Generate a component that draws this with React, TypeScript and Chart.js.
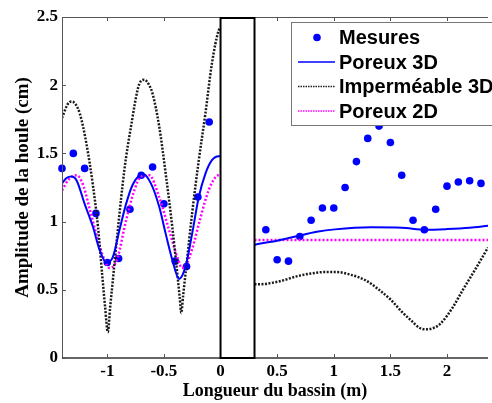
import React, { useEffect, useRef } from 'react';
import { Chart, registerables } from 'chart.js';

Chart.register(...registerables);

// Axis ticks
const xTicks = [-1, -0.5, 0, 0.5, 1, 1.5, 2];
const yTicks = [0, 0.5, 1, 1.5, 2, 2.5];
const xRange = [-1.4, 2.362];
const yRange = [0, 2.5];
// Basin structure (rectangle between these abscissae)
const basinBox = [0, 0.3];

// Mesures (measured points)
const mesuresX = [-1.4, -1.3, -1.2, -1.1, -1.0, -0.9, -0.8, -0.7, -0.6, -0.5, -0.4, -0.3, -0.2, -0.1,
  0.4, 0.5, 0.6, 0.7, 0.8, 0.9, 1.0, 1.1, 1.2, 1.3, 1.4, 1.5, 1.6, 1.7, 1.8, 1.9, 2.0, 2.1, 2.2, 2.3];
const mesuresY = [1.39, 1.50, 1.39, 1.06, 0.70, 0.73, 1.09, 1.34, 1.40, 1.13, 0.71, 0.67, 1.18, 1.73,
  0.94, 0.72, 0.71, 0.89, 1.01, 1.10, 1.10, 1.25, 1.44, 1.61, 1.70, 1.58, 1.34, 1.01, 0.94, 1.09, 1.26, 1.29, 1.30, 1.28];

// Poreux 3D
const poreux3dLeftX = [-1.40, -1.36, -1.315, -1.27, -1.2, -1.126, -1.067, -1.009, -0.951, -0.892, -0.834, -0.776, -0.717, -0.688, -0.615, -0.542, -0.484, -0.426, -0.367, -0.309, -0.251, -0.192, -0.134, -0.076, -0.017, 0];
const poreux3dLeftY = [1.28, 1.32, 1.33, 1.30, 1.13, 0.96, 0.79, 0.70, 0.74, 0.94, 1.13, 1.27, 1.34, 1.35, 1.28, 1.11, 0.91, 0.72, 0.58, 0.67, 0.91, 1.18, 1.35, 1.45, 1.48, 1.48];
const poreux3dRightX = [0.30, 0.33, 0.5, 0.68, 0.85, 1.01, 1.33, 1.6, 1.81, 2.0, 2.2, 2.362];
const poreux3dRightY = [0.83, 0.836, 0.86, 0.894, 0.925, 0.943, 0.958, 0.955, 0.94, 0.945, 0.955, 0.97];

// Imperméable 3D
const impermLeftX = [-1.40, -1.35, -1.315, -1.28, -1.242, -1.184, -1.126, -1.082, -1.044, -1.02, -0.995, -0.975, -0.951, -0.907, -0.849, -0.79, -0.717, -0.674, -0.63, -0.601, -0.542, -0.484, -0.426, -0.382, -0.36, -0.347, -0.33, -0.309, -0.251, -0.192, -0.134, -0.076, -0.017, 0];
const impermLeftY = [1.76, 1.86, 1.88, 1.86, 1.79, 1.57, 1.26, 0.96, 0.60, 0.38, 0.19, 0.37, 0.57, 0.94, 1.38, 1.70, 2.01, 2.04, 2.00, 1.94, 1.70, 1.35, 0.96, 0.62, 0.44, 0.33, 0.46, 0.62, 1.06, 1.45, 1.79, 2.16, 2.40, 2.42];
const impermRightX = [0.30, 0.33, 0.51, 0.68, 0.80, 0.92, 1.03, 1.15, 1.28, 1.40, 1.50, 1.60, 1.69, 1.76, 1.82, 1.88, 1.94, 2.05, 2.14, 2.257, 2.362];
const impermRightY = [0.54, 0.54, 0.56, 0.60, 0.62, 0.63, 0.63, 0.61, 0.57, 0.50, 0.43, 0.34, 0.27, 0.22, 0.21, 0.22, 0.25, 0.37, 0.50, 0.66, 0.81];

// Poreux 2D
const poreux2dLeftX = [-1.40, -1.34, -1.27, -1.21, -1.155, -1.067, -1.02, -0.98, -0.94, -0.907, -0.834, -0.761, -0.703, -0.63, -0.542, -0.455, -0.382, -0.339, -0.30, -0.25, -0.18, -0.105, -0.05, 0];
const poreux2dLeftY = [1.23, 1.31, 1.34, 1.26, 1.09, 0.82, 0.71, 0.66, 0.68, 0.74, 1.01, 1.23, 1.33, 1.34, 1.18, 0.94, 0.74, 0.66, 0.69, 0.80, 1.02, 1.23, 1.32, 1.35];
const poreux2dRightX = [0.30, 2.362];
const poreux2dRightY = [0.865, 0.865];

const seriesNames = ['Mesures', 'Poreux 3D', 'Imperméable 3D', 'Poreux 2D'];

const serif = "'Liberation Serif', 'Times New Roman', serif";
const sans = "'Liberation Sans', Arial, sans-serif";

function pts(xs: number[], ys: number[]) {
  return xs.map((x, i) => ({ x, y: ys[i] }));
}
function split(lx: number[], ly: number[], rx: number[], ry: number[]) {
  return [...pts(lx, ly), { x: (basinBox[0] + basinBox[1]) / 2, y: null as any }, ...pts(rx, ry)];
}

const framePlugin = {
  id: 'frame',
  afterDatasetsDraw(chart: any) {
    const { ctx, chartArea: a, scales } = chart;
    const x = scales.x, y = scales.y;
    ctx.save();
    // axes
    ctx.strokeStyle = '#555';
    ctx.lineWidth = 1;
    ctx.beginPath();
    ctx.moveTo(a.left + 0.5, a.top);
    ctx.lineTo(a.left + 0.5, a.bottom);
    ctx.moveTo(a.left, a.top + 0.5);
    ctx.lineTo(a.right, a.top + 0.5);
    ctx.stroke();
    ctx.strokeStyle = '#333';
    ctx.lineWidth = 1.5;
    ctx.beginPath();
    ctx.moveTo(a.left, a.bottom);
    ctx.lineTo(a.right, a.bottom);
    ctx.stroke();
    // inner ticks
    ctx.strokeStyle = '#555';
    ctx.lineWidth = 1;
    ctx.beginPath();
    xTicks.forEach((v) => {
      const px = Math.round(x.getPixelForValue(v)) + 0.5;
      ctx.moveTo(px, a.top);
      ctx.lineTo(px, a.top + 4);
      ctx.moveTo(px, a.bottom);
      ctx.lineTo(px, a.bottom - 4);
    });
    yTicks.forEach((v) => {
      const py = Math.round(y.getPixelForValue(v)) + 0.5;
      ctx.moveTo(a.left, py);
      ctx.lineTo(a.left + 4, py);
    });
    ctx.stroke();
    // basin box
    const b0 = x.getPixelForValue(basinBox[0]);
    const b1 = x.getPixelForValue(basinBox[1]);
    ctx.fillStyle = '#fff';
    ctx.fillRect(b0, a.top, b1 - b0, a.bottom - a.top);
    ctx.strokeStyle = '#000';
    ctx.lineWidth = 2;
    ctx.strokeRect(b0, a.top + 1, b1 - b0, a.bottom - a.top - 1);

    // legend
    const lx = 291.5, ly = 22.5;
    ctx.fillStyle = '#fff';
    ctx.fillRect(lx, ly, 260, 103);
    ctx.strokeStyle = '#777';
    ctx.lineWidth = 1;
    ctx.strokeRect(lx, ly, 260, 103);
    const rows = [37.5, 62, 86.5, 111];
    ctx.font = `bold 20px ${sans}`;
    ctx.textBaseline = 'middle';
    ctx.textAlign = 'left';
    rows.forEach((ry, i) => {
      if (i === 0) {
        ctx.fillStyle = '#0000ff';
        ctx.beginPath();
        ctx.arc(317, ry, 3.8, 0, Math.PI * 2);
        ctx.fill();
      } else {
        ctx.beginPath();
        ctx.moveTo(298, ry);
        ctx.lineTo(335, ry);
        if (i === 1) {
          ctx.setLineDash([]);
          ctx.strokeStyle = '#0000ff';
          ctx.lineWidth = 1.5;
        } else if (i === 2) {
          ctx.setLineDash([1.5, 1]);
          ctx.strokeStyle = '#222';
          ctx.lineWidth = 1.5;
        } else {
          ctx.setLineDash([1.5, 1]);
          ctx.strokeStyle = '#ff00ff';
          ctx.lineWidth = 1.5;
        }
        ctx.stroke();
        ctx.setLineDash([]);
      }
      ctx.fillStyle = '#000';
      ctx.fillText(seriesNames[i], 339, ry + 1);
    });
    ctx.restore();
  },
};

export default function App() {
  const ref = useRef<HTMLCanvasElement>(null);
  useEffect(() => {
    document.body.style.margin = '0';
    document.body.style.overflow = 'hidden';
    const canvas = ref.current!;
    const chart = new Chart(canvas, {
      type: 'line',
      data: {
        datasets: [
          {
            label: seriesNames[1],
            data: split(poreux3dLeftX, poreux3dLeftY, poreux3dRightX, poreux3dRightY),
            borderColor: '#0000ff',
            borderWidth: 2,
            pointRadius: 0,
            cubicInterpolationMode: 'monotone',
            spanGaps: false,
          },
          {
            label: seriesNames[2],
            data: split(impermLeftX, impermLeftY, impermRightX, impermRightY),
            borderColor: '#1a1a1a',
            borderWidth: 2.5,
            borderDash: [2, 1.5],
            pointRadius: 0,
            cubicInterpolationMode: 'monotone',
            spanGaps: false,
          },
          {
            label: seriesNames[3],
            data: split(poreux2dLeftX, poreux2dLeftY, poreux2dRightX, poreux2dRightY),
            borderColor: '#ff00ff',
            borderWidth: 2.5,
            borderDash: [2, 2],
            pointRadius: 0,
            cubicInterpolationMode: 'monotone',
            spanGaps: false,
          },
          {
            label: seriesNames[0],
            data: pts(mesuresX, mesuresY),
            showLine: false,
            pointRadius: 3.8,
            pointBackgroundColor: '#0000ff',
            pointBorderWidth: 0,
            borderColor: '#0000ff',
            clip: false as any,
          },
        ] as any,
      },
      options: {
        responsive: false,
        animation: false,
        devicePixelRatio: 1,
        layout: { padding: { top: 17, left: 0, right: 0, bottom: 0 } },
        plugins: { legend: { display: false }, tooltip: { enabled: false } },
        scales: {
          x: {
            type: 'linear',
            min: xRange[0],
            max: xRange[1],
            afterBuildTicks: (s: any) => { s.ticks = xTicks.map((v) => ({ value: v })); },
            afterFit: (s: any) => { s.height = 45; },
            grid: { display: false, drawTicks: false },
            border: { display: false },
            ticks: {
              padding: 3,
              color: '#000',
              autoSkip: false,
              maxRotation: 0,
              font: { family: serif, size: 17, weight: 'bold' },
              callback: (v: any) => String(v),
            },
            title: {
              display: true,
              text: 'Longueur du bassin (m)',
              color: '#000',
              font: { family: serif, size: 18, weight: 'bold' },
              padding: { top: 0, bottom: 1 },
            },
          },
          y: {
            type: 'linear',
            min: yRange[0],
            max: yRange[1],
            afterBuildTicks: (s: any) => { s.ticks = yTicks.map((v) => ({ value: v })); },
            afterFit: (s: any) => { s.width = 62; },
            grid: { display: false, drawTicks: false },
            border: { display: false },
            ticks: {
              padding: 4,
              color: '#000',
              font: { family: serif, size: 17, weight: 'bold' },
              callback: (v: any) => String(v),
            },
            title: {
              display: true,
              text: 'Amplitude de la houle (cm)',
              color: '#000',
              font: { family: serif, size: 19, weight: 'bold' },
              padding: { top: 12, bottom: 0 },
            },
          },
        },
      } as any,
      plugins: [framePlugin],
    });
    return () => chart.destroy();
  }, []);
  return (
    <div style={{ width: 492, height: 403 }}>
      <canvas ref={ref} width={492} height={403} style={{ display: 'block', width: 492, height: 403 }} />
    </div>
  );
}
